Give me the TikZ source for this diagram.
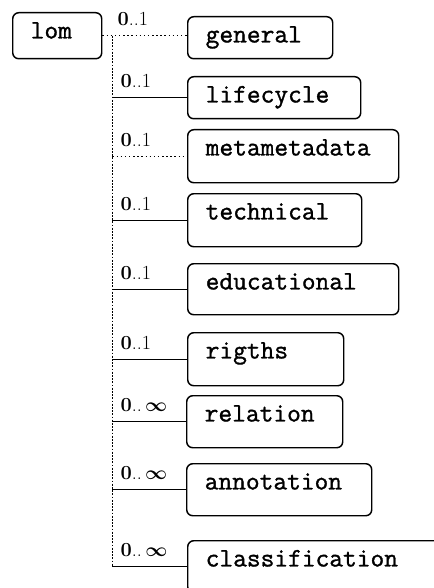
\documentclass[tikz,border=0pt]{standalone}
\usepackage{amsmath}
\usepackage{fontspec}
\usepackage{tikz}
\newfontfamily\entryfont{Latin Modern Mono}[FakeBold=1.2]

\tikzset{
  entry/.style={draw, rounded corners=4.5pt, line width=1.1pt, anchor=north west, align=left,
    inner xsep=13.5pt, inner ysep=3pt, text height=16.3pt,
    font=\entryfont\fontsize{20}{24}\selectfont},
  card/.style={anchor=base west, inner sep=0pt, yshift=7.5pt, pos=0.1,
    font=\fontsize{15}{17}\selectfont},
  branch/.style={line width=1.1pt},
  trunk/.style={line width=1.4pt, densely dotted},
}
\newcommand{\cardone}{\textbf{0}..1}
\newcommand{\cardmany}{\textbf{0}..\,{\boldmath$\infty$}}

\begin{document}
\begin{tikzpicture}[x=0.75pt,y=0.75pt,yscale=-1,xscale=1]
\useasboundingbox (0,0) rectangle (433,588);
% root
\node[entry, text width=39.75pt, text depth=12.2pt] (lom) at (12,12) {lom};
% categories
\node[entry, text width=81.75pt, text depth=9.2pt] (general) at (187,16) {general};
\node[entry, text width=102.75pt, text depth=9.2pt] (lifecycle) at (187,76) {lifecycle};
\node[entry, text width=131.25pt, text depth=17.45pt] (metametadata) at (187,129) {metametadata};
\node[entry, text width=103.5pt, text depth=17.45pt] (technical) at (187,193) {technical};
\node[entry, text width=131.25pt, text depth=15.95pt] (educational) at (187,263) {educational};
\node[entry, text width=90pt, text depth=17.45pt] (rigths) at (187,332) {rigths};
\node[entry, text width=90pt, text depth=16.7pt] (relation) at (186,395) {relation};
\node[entry, text width=111.75pt, text depth=16.7pt] (annotation) at (186,463) {annotation};
\node[entry, text width=166.5pt, text depth=16.7pt] (classification) at (187,540) {classification};
% connectors
\coordinate (fork) at ([xshift=7.5pt]lom.east);
\draw[trunk] (fork) -- (fork |- classification.west);
\draw[branch, dotted] (lom.east) -- node[card, pos=0.17] (c-general) {\cardone} (lom.east -| general.west);
\foreach \n/\s/\c in {lifecycle/solid/\cardone, metametadata/dotted/\cardone,
    technical/solid/\cardone, educational/solid/\cardone, rigths/solid/\cardone,
    relation/solid/\cardmany, annotation/solid/\cardmany, classification/solid/\cardmany}
  \draw[branch, \s] (fork |- \n.west) -- node[card] (c-\n) {\c} (\n.west);
\end{tikzpicture}
\end{document}
